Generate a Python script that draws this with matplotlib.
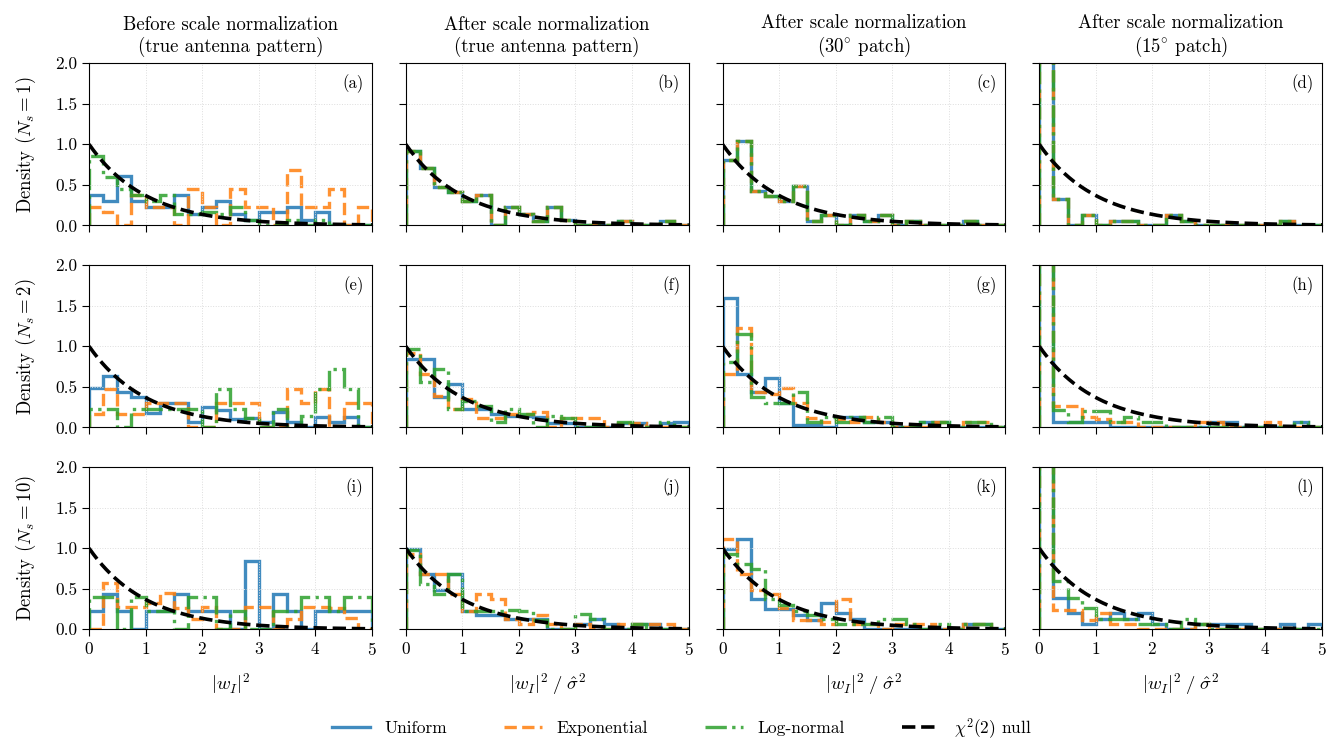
import numpy as np
import matplotlib
matplotlib.use("Agg")
import matplotlib.pyplot as plt

plt.rcParams["font.family"] = "serif"
plt.rcParams["font.serif"] = ["cmr10", "DejaVu Serif"]
plt.rcParams["mathtext.fontset"] = "cm"
plt.rcParams["axes.formatter.use_mathtext"] = True
plt.rcParams["axes.unicode_minus"] = False

# --- data: histogram densities, 20 bins of width 0.25 on [0, 5] ---
bin_edges = np.linspace(0, 5, 21)
series_names = ["Uniform", "Exponential", "Log-normal"]
col_titles = ["Before scale normalization\n(true antenna pattern)",
              "After scale normalization\n(true antenna pattern)",
              "After scale normalization\n($30^{\\circ}$ patch)",
              "After scale normalization\n($15^{\\circ}$ patch)"]
row_labels = ["Density ($N_s=1$)", "Density ($N_s=2$)", "Density ($N_s=10$)"]
x_labels = ["$|w_I|^2$", "$|w_I|^2\\;/\\;\\hat{\\sigma}^2$",
            "$|w_I|^2\\;/\\;\\hat{\\sigma}^2$", "$|w_I|^2\\;/\\;\\hat{\\sigma}^2$"]
panel_tags = ["(a)", "(b)", "(c)", "(d)", "(e)", "(f)", "(g)", "(h)", "(i)", "(j)", "(k)", "(l)"]

# row Ns=1
a_uni = [0.37, 0.30, 0.61, 0.30, 0.23, 0.23, 0.37, 0.14, 0.23, 0.30, 0.14, 0.07, 0.16, 0.16, 0.23, 0.07, 0.16, 0.0, 0.0, 0.0]
a_exp = [0.23, 0.16, 0.0, 0.37, 0.23, 0.23, 0.0, 0.45, 0.23, 0.0, 0.45, 0.23, 0.23, 0.0, 0.68, 0.23, 0.23, 0.45, 0.0, 0.23]
a_log = [0.86, 0.60, 0.45, 0.37, 0.30, 0.37, 0.14, 0.14, 0.16, 0.14, 0.23, 0.07, 0.0, 0.0, 0.07, 0.0, 0.07, 0.0, 0.0, 0.0]
b_all = [0.92, 0.71, 0.47, 0.41, 0.30, 0.37, 0.0, 0.23, 0.14, 0.05, 0.23, 0.07, 0.0, 0.0, 0.0, 0.05, 0.0, 0.0, 0.05, 0.0]
c_all = [0.80, 1.04, 0.43, 0.36, 0.30, 0.49, 0.05, 0.13, 0.0, 0.13, 0.05, 0.13, 0.0, 0.06, 0.0, 0.0, 0.0, 0.06, 0.0, 0.0]
d_all = [4.0, 0.33, 0.0, 0.13, 0.0, 0.06, 0.06, 0.0, 0.0, 0.13, 0.06, 0.0, 0.0, 0.0, 0.0, 0.0, 0.0, 0.06, 0.0, 0.0]

# row Ns=2
e_uni = [0.49, 0.63, 0.43, 0.37, 0.18, 0.30, 0.30, 0.06, 0.25, 0.22, 0.10, 0.12, 0.06, 0.19, 0.06, 0.01, 0.13, 0.06, 0.13, 0.0]
e_exp = [0.16, 0.47, 0.16, 0.16, 0.30, 0.30, 0.30, 0.0, 0.0, 0.30, 0.30, 0.30, 0.0, 0.0, 0.47, 0.30, 0.47, 0.0, 0.30, 0.30]
e_log = [0.23, 0.23, 0.0, 0.23, 0.23, 0.23, 0.23, 0.23, 0.0, 0.47, 0.23, 0.12, 0.0, 0.23, 0.0, 0.14, 0.47, 0.72, 0.47, 0.0]
f_uni = [0.84, 0.84, 0.37, 0.54, 0.23, 0.23, 0.16, 0.14, 0.14, 0.13, 0.05, 0.05, 0.0, 0.0, 0.01, 0.05, 0.05, 0.01, 0.05, 0.06]
f_exp = [0.92, 0.66, 0.39, 0.23, 0.35, 0.12, 0.12, 0.16, 0.16, 0.19, 0.01, 0.12, 0.12, 0.12, 0.0, 0.05, 0.05, 0.01, 0.01, 0.01]
f_log = [0.96, 0.56, 0.72, 0.23, 0.32, 0.26, 0.06, 0.23, 0.16, 0.0, 0.14, 0.12, 0.0, 0.0, 0.0, 0.06, 0.01, 0.01, 0.06, 0.01]
g_uni = [1.60, 0.66, 0.43, 0.61, 0.30, 0.03, 0.03, 0.0, 0.13, 0.13, 0.06, 0.06, 0.0, 0.0, 0.06, 0.06, 0.0, 0.0, 0.0, 0.0]
g_exp = [0.66, 1.23, 0.43, 0.41, 0.49, 0.30, 0.12, 0.06, 0.10, 0.06, 0.13, 0.06, 0.0, 0.0, 0.0, 0.06, 0.01, 0.06, 0.06, 0.0]
g_log = [0.80, 1.15, 0.37, 0.30, 0.30, 0.43, 0.06, 0.13, 0.06, 0.13, 0.06, 0.13, 0.0, 0.0, 0.06, 0.06, 0.0, 0.06, 0.06, 0.0]
h_uni = [4.0, 0.06, 0.06, 0.06, 0.06, 0.0, 0.0, 0.0, 0.0, 0.0, 0.0, 0.0, 0.06, 0.06, 0.0, 0.0, 0.0, 0.0, 0.06, 0.0]
h_exp = [4.0, 0.26, 0.26, 0.13, 0.10, 0.06, 0.06, 0.01, 0.0, 0.0, 0.0, 0.06, 0.06, 0.0, 0.0, 0.0, 0.06, 0.0, 0.0, 0.0]
h_log = [4.0, 0.22, 0.06, 0.20, 0.20, 0.06, 0.13, 0.06, 0.06, 0.0, 0.0, 0.0, 0.0, 0.01, 0.01, 0.01, 0.01, 0.0, 0.06, 0.01]

# row Ns=10
i_uni = [0.22, 0.43, 0.22, 0.0, 0.22, 0.22, 0.43, 0.22, 0.22, 0.22, 0.0, 0.84, 0.0, 0.43, 0.22, 0.0, 0.22, 0.22, 0.22, 0.22]
i_exp = [0.0, 0.57, 0.28, 0.28, 0.32, 0.45, 0.26, 0.13, 0.28, 0.0, 0.0, 0.28, 0.28, 0.0, 0.13, 0.28, 0.28, 0.26, 0.14, 0.0]
i_log = [0.40, 0.40, 0.0, 0.40, 0.22, 0.22, 0.0, 0.40, 0.40, 0.0, 0.22, 0.0, 0.0, 0.22, 0.22, 0.40, 0.40, 0.22, 0.40, 0.40]
j_uni = [0.99, 0.68, 0.48, 0.68, 0.23, 0.18, 0.18, 0.13, 0.13, 0.13, 0.01, 0.01, 0.06, 0.13, 0.06, 0.0, 0.06, 0.06, 0.0, 0.0]
j_exp = [0.93, 0.68, 0.68, 0.43, 0.23, 0.43, 0.37, 0.13, 0.06, 0.18, 0.06, 0.0, 0.06, 0.0, 0.01, 0.06, 0.06, 0.06, 0.06, 0.0]
j_log = [0.98, 0.56, 0.43, 0.68, 0.23, 0.23, 0.23, 0.24, 0.23, 0.12, 0.0, 0.0, 0.19, 0.13, 0.0, 0.01, 0.06, 0.01, 0.01, 0.0]
k_uni = [0.99, 1.11, 0.37, 0.25, 0.25, 0.18, 0.12, 0.32, 0.20, 0.13, 0.0, 0.0, 0.0, 0.01, 0.0, 0.0, 0.0, 0.06, 0.06, 0.0]
k_exp = [1.11, 0.68, 0.49, 0.44, 0.26, 0.12, 0.12, 0.06, 0.37, 0.06, 0.06, 0.0, 0.06, 0.06, 0.06, 0.0, 0.0, 0.06, 0.06, 0.0]
k_log = [0.93, 0.80, 0.74, 0.37, 0.30, 0.23, 0.18, 0.13, 0.06, 0.06, 0.06, 0.13, 0.13, 0.06, 0.0, 0.06, 0.0, 0.06, 0.06, 0.0]
l_uni = [4.0, 0.39, 0.20, 0.06, 0.13, 0.20, 0.13, 0.20, 0.06, 0.01, 0.01, 0.06, 0.06, 0.06, 0.06, 0.01, 0.01, 0.06, 0.01, 0.06]
l_exp = [4.0, 0.24, 0.24, 0.12, 0.20, 0.06, 0.06, 0.01, 0.0, 0.0, 0.01, 0.06, 0.01, 0.01, 0.01, 0.01, 0.01, 0.01, 0.01, 0.0]
l_log = [4.0, 0.59, 0.39, 0.26, 0.13, 0.13, 0.13, 0.06, 0.06, 0.01, 0.13, 0.06, 0.01, 0.01, 0.0, 0.0, 0.0, 0.0, 0.0, 0.0]

panels = [
    [(a_uni, a_exp, a_log), (b_all, b_all, b_all), (c_all, c_all, c_all), (d_all, d_all, d_all)],
    [(e_uni, e_exp, e_log), (f_uni, f_exp, f_log), (g_uni, g_exp, g_log), (h_uni, h_exp, h_log)],
    [(i_uni, i_exp, i_log), (j_uni, j_exp, j_log), (k_uni, k_exp, k_log), (l_uni, l_exp, l_log)],
]

# chi^2(2) null density of |w|^2 (unit-mean exponential)
x_null = np.linspace(0, 5, 200)
y_null = np.exp(-x_null)

colors = ["#1f77b4", "#ff7f0e", "#2ca02c"]
styles = ["-", "--", "-."]

fig, axes = plt.subplots(3, 4, figsize=(13.37, 7.43), dpi=100, sharex=True, sharey=True)
fig.subplots_adjust(left=0.0666, right=0.9888, top=0.915, bottom=0.153, wspace=0.12, hspace=0.245)

for r in range(3):
    for c in range(4):
        ax = axes[r, c]
        for k in range(3):
            ax.stairs(panels[r][c][k], bin_edges, color=colors[k], ls=styles[k],
                      lw=2.4, alpha=0.85, label=series_names[k])
        ax.plot(x_null, y_null, color="black", ls="--", lw=2.6, label="$\\chi^2(2)$ null")
        ax.set_xlim(0, 5)
        ax.set_ylim(0, 2)
        ax.set_xticks([0, 1, 2, 3, 4, 5])
        ax.set_yticks([0, 0.5, 1.0, 1.5, 2.0])
        ax.grid(True, ls=":", color="#dddddd", lw=0.7)
        ax.tick_params(direction="out", length=5, labelsize=12.5)
        ax.text(0.97, 0.93, panel_tags[r * 4 + c], transform=ax.transAxes,
                ha="right", va="top", fontsize=12)
        if r == 0:
            ax.set_title(col_titles[c], fontsize=13.5, pad=8)
        if c == 0:
            ax.set_ylabel(row_labels[r], fontsize=13.5, labelpad=12)
        if r == 2:
            ax.set_xlabel(x_labels[c], fontsize=13.5, labelpad=9)

axes[0, 0].yaxis.set_major_formatter(matplotlib.ticker.FormatStrFormatter("%.1f"))

handles, labels = axes[0, 0].get_legend_handles_labels()
fig.legend(handles, labels, loc="lower center", ncol=4, frameon=False,
           fontsize=12.5, bbox_to_anchor=(0.51, -0.018), handlelength=2.2, columnspacing=3.3)

fig.savefig("out.png", dpi=100)
